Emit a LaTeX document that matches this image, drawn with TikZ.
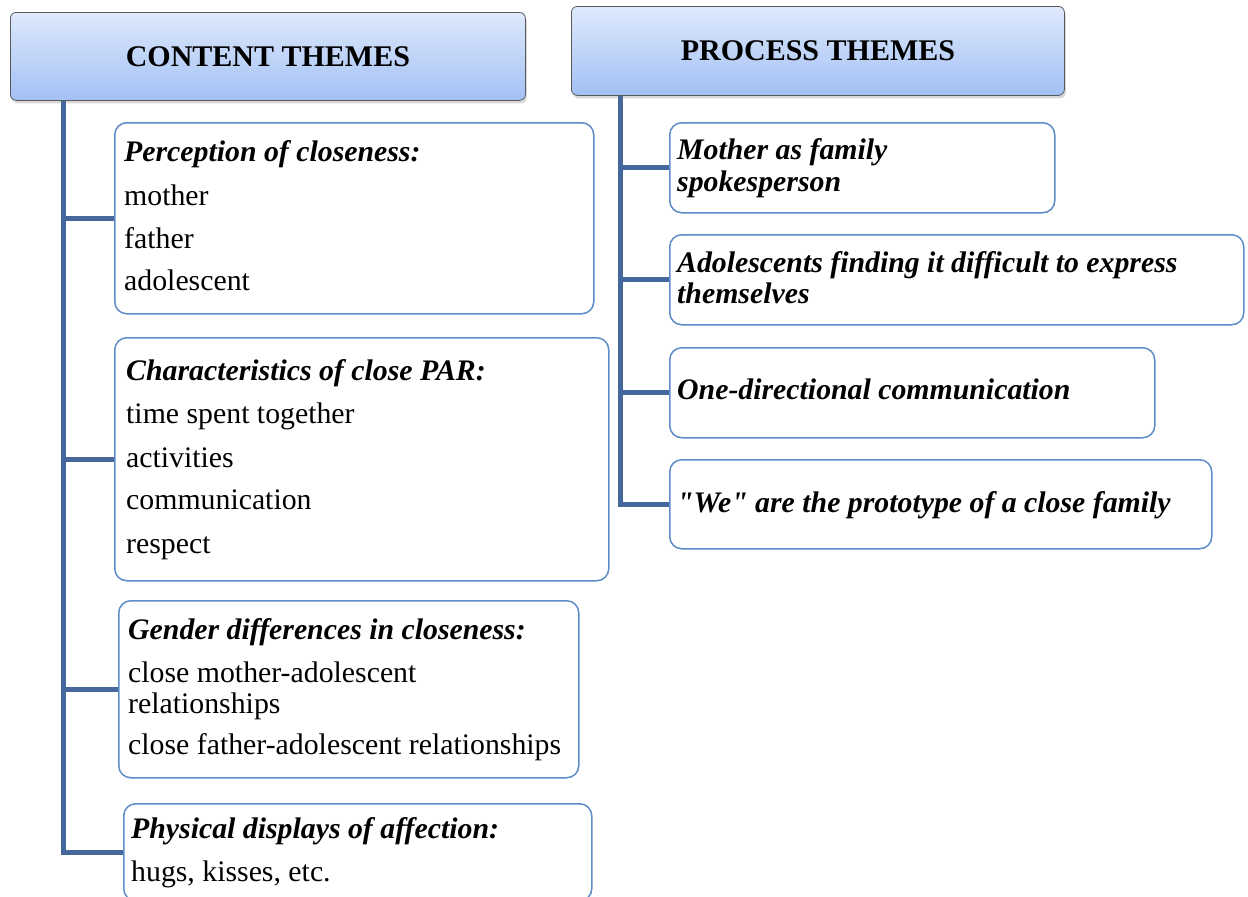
\documentclass[tikz,border=0pt]{standalone}
\usepackage{fontspec}
\setmainfont{Liberation Serif}[Ligatures=TeXOff]
\usetikzlibrary{shadows}
\definecolor{trunkc}{HTML}{44689B}
\definecolor{boxline}{HTML}{5E8CC6}
\definecolor{hdtop}{HTML}{DEE9FC}
\definecolor{hdbot}{HTML}{A2C0F4}
\begin{document}
\begin{tikzpicture}[x=1pt,y=-1pt,
  header/.style={draw=black!65, line width=0.8pt, rounded corners=6pt,
    top color=hdtop, bottom color=hdbot, inner sep=0pt, anchor=north west,
    drop shadow={opacity=0.3, shadow xshift=1.5pt, shadow yshift=-3pt},
    font=\fontsize{30}{32}\selectfont\bfseries},
  themebox/.style={draw=boxline, line width=1.5pt, rounded corners=12pt,
    fill=white, inner sep=0pt, anchor=north west},
  trunkline/.style={draw=trunkc, line width=5pt},
  txt/.style={anchor=west, inner sep=0pt, text height=0.7em, text depth=0.22em,
    font=\fontsize{29.8}{32}\selectfont},
  ttl/.style={txt, font=\fontsize{29.8}{32}\selectfont\bfseries\itshape}
]
\useasboundingbox (0,0) rectangle (1248,897);

% headers
\node[header, minimum width=515pt, minimum height=88pt] (ch) at (10,12) {CONTENT THEMES};
\node[header, minimum width=493pt, minimum height=89pt] (ph) at (571,6) {PROCESS THEMES};

% left boxes
\node[themebox, minimum width=479pt, minimum height=191pt] (b1) at (114,122) {};
\node[themebox, minimum width=494pt, minimum height=243pt] (b2) at (114,337) {};
\node[themebox, minimum width=460pt, minimum height=177pt] (b3) at (118,600) {};
\node[themebox, minimum width=468pt, minimum height=97pt] (b4) at (123,803) {};

% right boxes
\node[themebox, minimum width=385pt, minimum height=90pt] (r1) at (669,122) {};
\node[themebox, minimum width=574pt, minimum height=90pt] (r2) at (669,234) {};
\node[themebox, minimum width=485pt, minimum height=90pt] (r3) at (669,347) {};
\node[themebox, minimum width=542pt, minimum height=89pt] (r4) at (669,459) {};

% connectors
\coordinate (lt) at (63,100);
\coordinate (rt) at (620,95);
\draw[trunkline] (ch.south -| lt) |- (b4.west);
\draw[trunkline] (lt |- b1.west) -- (b1.west);
\draw[trunkline] (lt |- b2.west) -- (b2.west);
\draw[trunkline] (lt |- b3.west) -- (b3.west);
\draw[trunkline] (ph.south -| rt) |- (r4.west);
\draw[trunkline] (rt |- r1.west) -- (r1.west);
\draw[trunkline] (rt |- r2.west) -- (r2.west);
\draw[trunkline] (rt |- r3.west) -- (r3.west);

% left texts
\node[ttl] (b1a) at (124,159) {Perception of closeness:};
\node[txt] (b1b) at (124,203) {mother};
\node[txt] (b1c) at (124,246) {father};
\node[txt] (b1d) at (124,288) {adolescent};

\node[ttl] (b2a) at (126,378) {Characteristics of close PAR:};
\node[txt] (b2b) at (126,421) {time spent together};
\node[txt] (b2c) at (126,465) {activities};
\node[txt] (b2d) at (126,507) {communication};
\node[txt] (b2e) at (126,551) {respect};

\node[ttl] (b3a) at (128,637) {Gender differences in closeness:};
\node[txt] (b3b) at (128,680) {close mother-adolescent};
\node[txt] (b3c) at (128,711) {relationships};
\node[txt] (b3d) at (128,752) {close father-adolescent relationships};

\node[ttl] (b4a) at (131,836) {Physical displays of affection:};
\node[txt] (b4b) at (131,879) {hugs, kisses, etc.};

% right texts
\node[ttl] (r1a) at (677,157) {Mother as family};
\node[ttl] (r1b) at (677,189) {spokesperson};
\node[ttl] (r2a) at (677,270) {Adolescents finding it difficult to express};
\node[ttl] (r2b) at (677,301) {themselves};
\node[ttl] (r3a) at (677,397) {One-directional communication};
\node[ttl] (r4a) at (677,510) {"We" are the prototype of a close family};
\end{tikzpicture}
\end{document}
